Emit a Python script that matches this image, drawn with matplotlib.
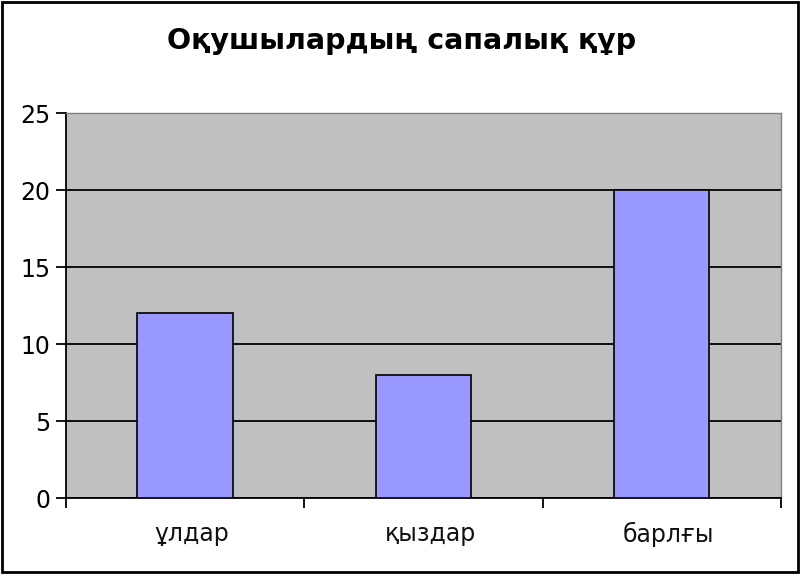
import matplotlib.pyplot as plt
from matplotlib.patches import Rectangle
from matplotlib.transforms import ScaledTranslation

# данные диаграммы
categories = ['ұлдар', 'қыздар', 'барлғы']
values = [12, 8, 20]
y_ticks = [0, 5, 10, 15, 20, 25]
title = 'Оқушылардың сапалық құр'

fig = plt.figure(figsize=(8, 5.74), dpi=100)
ax = fig.add_axes([0.0825, 0.1324, 0.8935, 0.6706])

pos = list(range(len(categories)))
ax.set_facecolor('#C0C0C0')
ax.bar(pos, values, width=0.4, color='#9999FF', edgecolor='black', linewidth=1.2, zorder=3)

ax.set_xlim(-0.5, len(categories) - 0.5)
ax.set_ylim(0, 25)
ax.set_yticks(y_ticks)
ax.yaxis.grid(True, color='black', linewidth=1.3, zorder=1)
ax.set_axisbelow(True)

# подписи категорий по центру, засечки на границах
ax.set_xticks(pos)
ax.set_xticklabels(categories, fontsize=17, color='#111111')
ax.set_xticks([p - 0.5 for p in pos] + [len(pos) - 0.5], minor=True)
ax.tick_params(axis='x', which='major', length=0, pad=17)
ax.tick_params(axis='x', which='minor', length=7, width=1.3, direction='out')
ax.tick_params(axis='y', length=7, width=1.3, labelsize=17, pad=4)

# небольшой сдвиг подписей вправо, как в оригинале
shift = ScaledTranslation(7 / 100, 0, fig.dpi_scale_trans)
for lbl in ax.get_xticklabels():
    lbl.set_transform(lbl.get_transform() + shift)

for side in ['left', 'bottom']:
    ax.spines[side].set_color('black')
    ax.spines[side].set_linewidth(1.3)
for side in ['top', 'right']:
    ax.spines[side].set_color('#808080')
    ax.spines[side].set_linewidth(1.0)

fig.text(0.5025, 0.928, title, ha='center', va='center', fontsize=20.5, fontweight='bold')

# рамка вокруг рисунка
fig.patches.append(Rectangle((0.002, 0.003), 0.995, 0.994, transform=fig.transFigure,
                             fill=False, edgecolor='black', linewidth=2))

fig.savefig('out.png', dpi=100)
